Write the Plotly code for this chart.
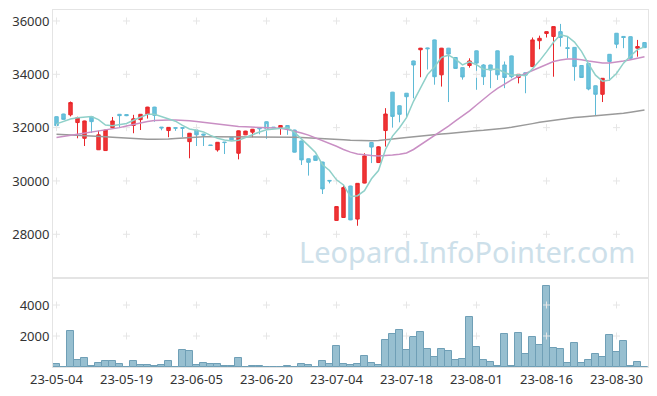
import plotly.graph_objects as go
from plotly.subplots import make_subplots

# ---------------- data ----------------
dates = ["23-05-04","23-05-08","23-05-09","23-05-10","23-05-11","23-05-12","23-05-15","23-05-16","23-05-17","23-05-18",
         "23-05-19","23-05-22","23-05-23","23-05-24","23-05-25","23-05-26","23-05-30","23-05-31","23-06-01","23-06-02",
         "23-06-05","23-06-07","23-06-08","23-06-09","23-06-12","23-06-13","23-06-14","23-06-15","23-06-16","23-06-19",
         "23-06-20","23-06-21","23-06-22","23-06-23","23-06-26","23-06-27","23-06-28","23-06-29","23-06-30","23-07-03",
         "23-07-04","23-07-05","23-07-06","23-07-07","23-07-10","23-07-11","23-07-12","23-07-13","23-07-14","23-07-17",
         "23-07-18","23-07-19","23-07-20","23-07-21","23-07-24","23-07-25","23-07-26","23-07-27","23-07-28","23-07-31",
         "23-08-01","23-08-02","23-08-03","23-08-04","23-08-07","23-08-08","23-08-09","23-08-10","23-08-11","23-08-14",
         "23-08-16","23-08-17","23-08-18","23-08-21","23-08-22","23-08-23","23-08-24","23-08-25","23-08-28","23-08-29",
         "23-08-30","23-08-31","23-09-01","23-09-04","23-09-05"]

open_ = [32410,32510,32480,32190,31600,32410,31170,31140,32000,32500,
         32490,32080,32300,32500,32770,32020,31890,32000,32000,31475,
         31910,31760,31350,31165,31460,31630,31040,31730,31830,31990,
         32220,32020,32000,32080,31910,31500,30830,30940,30710,30020,
         28520,28630,29810,28570,29920,31440,30690,31890,33330,32820,
         33290,34500,34920,34990,35290,33980,34980,34630,34250,34330,
         34880,34350,34350,34880,34350,34690,33880,34060,34290,35260,
         35530,35420,35600,35000,35010,34330,34410,33570,33250,34750,
         35540,35420,35410,34980,35190]
high = [32420,32520,32980,32410,32260,32420,31880,31920,32400,32510,
        32500,32480,32510,32780,32780,32020,32020,32010,32010,31800,
        31920,31770,31350,31460,31460,31630,31890,31880,31950,31990,
        32230,32020,32090,32090,31920,31510,30840,30950,30720,30020,
        29050,29850,29820,29920,31040,31450,31300,32730,33340,32830,
        33300,34510,34990,35000,35300,34990,34990,34640,34260,34600,
        34890,34380,34360,34890,34480,34700,34010,34060,35380,35450,
        35610,35800,35890,35410,35020,34340,34420,33580,33860,34760,
        35550,35420,35420,35290,35200]
low = [31910,32300,32420,31600,31310,31800,31160,31130,31990,32000,
       32430,31790,31910,32340,32220,31900,31640,31880,31640,30850,
       31310,31310,31320,31100,31010,31530,30810,31720,31640,31750,
       31580,31990,31730,31730,31070,30600,30200,30760,29510,29910,
       28510,28620,28530,28320,29910,30670,30680,31290,32000,32200,
       32400,33100,33890,34180,33610,33540,32960,34210,33800,34250,
       33420,33600,33480,33790,33480,33850,33660,33290,34280,34940,
       35380,33910,35040,34600,33760,33870,33400,32460,32960,33750,
       34980,34980,34590,34660,34990]
close = [32075,32310,32940,32370,32250,32225,31730,31910,32250,32450,
         32450,32330,32500,32770,32460,31990,32010,31980,31980,31790,
         31730,31720,31330,31450,31440,31540,31880,31870,31940,31960,
         31960,32000,32080,31980,31080,30790,30700,30770,29700,30000,
         29040,29750,28540,29910,30940,31270,31280,32510,32420,32500,
         33160,34350,34980,34960,33910,34980,34760,34220,33900,34500,
         34420,33910,34160,33980,33880,33910,34000,33970,35290,35350,
         35600,35790,35380,34970,34290,33880,33450,33250,33850,34480,
         35130,35380,34600,35040,35000]

volume = [170,0,2300,430,560,60,240,370,370,170,
          0,370,110,110,40,110,370,0,1080,1010,
          110,240,170,170,40,40,560,0,40,40,
          0,0,0,40,0,170,110,0,370,170,
          1333,170,110,170,690,240,110,1720,2110,2370,
          1080,1910,2240,1140,620,1140,1010,430,490,3200,
          1270,430,300,40,2110,40,2170,820,1910,1400,
          5200,1200,1140,240,1530,240,430,820,620,2040,
          950,1660,40,300,0]

ma5 = [32140,32240,32320,32370,32389,32419,32303,32097,32073,32113,
       32158,32278,32396,32500,32502,32410,32346,32242,32084,31950,
       31898,31840,31710,31604,31534,31496,31528,31636,31734,31838,
       31922,31946,31988,31996,31820,31586,31326,31064,30608,30392,
       30042,29852,29406,29448,29636,30082,30388,31182,31684,31996,
       32374,32988,33482,33990,34272,34636,34718,34566,34354,34472,
       34360,34190,34178,34194,34070,33968,33986,33948,34210,34504,
       34842,35200,35482,35418,35206,34862,34394,33968,33744,33782,
       34032,34418,34688,34926,35030]

ma20 = [31630,31670,31720,31760,31800,31830,31860,31900,31950,32000,
        32060,32120,32180,32230,32270,32290,32290,32290,32280,32260,
        32230,32200,32160,32120,32090,32060,32040,32030,32020,32020,
        32010,32000,31980,31930,31870,31800,31720,31620,31520,31420,
        31300,31180,31080,31010,30970,30950,30940,30950,30970,31000,
        31050,31180,31350,31520,31700,31860,32060,32250,32430,32630,
        32850,33070,33280,33470,33640,33790,33920,34030,34160,34280,
        34380,34480,34540,34570,34570,34550,34500,34450,34420,34420,
        34450,34500,34550,34610,34660]

ma60 = [31750,31740,31730,31720,31710,31700,31680,31660,31640,31620,
        31600,31580,31570,31565,31560,31560,31570,31590,31610,31630,
        31650,31660,31660,31660,31660,31660,31660,31660,31660,31660,
        31660,31650,31650,31640,31640,31630,31620,31610,31600,31590,
        31570,31550,31530,31520,31510,31510,31520,31540,31570,31600,
        31630,31660,31690,31710,31730,31760,31780,31810,31830,31850,
        31880,31900,31920,31950,31980,32010,32050,32100,32150,32200,
        32240,32280,32320,32350,32380,32400,32420,32440,32460,32480,
        32510,32540,32580,32620,32660]

price_ticks = [28000, 30000, 32000, 34000, 36000]
price_labels = ["28000", "30000", "32000", "34000", "36000"]
volume_ticks = [2000, 4000]
volume_labels = ["2000", "4000"]
label_every = 10

# ---------------- figure ----------------
idx = list(range(len(dates)))
tick_idx = idx[::label_every]
tick_txt = [dates[i] for i in tick_idx]

fig = make_subplots(rows=2, cols=1, shared_xaxes=True, vertical_spacing=0,
                    row_heights=[268, 89])

# grid "+" markers
grid_col = "#e6e6e6"
gx, gy = [], []
for t in tick_idx:
    for p in price_ticks:
        gx.append(t); gy.append(p)
fig.add_trace(go.Scatter(x=gx, y=gy, mode="markers", hoverinfo="skip", showlegend=False,
                         marker=dict(symbol="cross-thin", size=5, line=dict(color=grid_col, width=1))),
              row=1, col=1)
vx, vy = [], []
for t in tick_idx:
    for p in volume_ticks:
        vx.append(t); vy.append(p)
fig.add_trace(go.Scatter(x=vx, y=vy, mode="markers", hoverinfo="skip", showlegend=False,
                         marker=dict(symbol="cross-thin", size=5, line=dict(color=grid_col, width=1))),
              row=2, col=1)

fig.add_trace(go.Scatter(x=idx, y=ma60, mode="lines", line=dict(color="#9a9a9a", width=1.5),
                         showlegend=False, hoverinfo="skip"), row=1, col=1)
fig.add_trace(go.Scatter(x=idx, y=ma20, mode="lines", line=dict(color="#c98fc4", width=1.5),
                         showlegend=False, hoverinfo="skip"), row=1, col=1)

fig.add_trace(go.Candlestick(
    x=idx, open=open_, high=high, low=low, close=close,
    increasing=dict(line=dict(color="#e8262b", width=1), fillcolor="#ef3535"),
    decreasing=dict(line=dict(color="#5fbad6", width=1), fillcolor="#6ac2dc"),
    whiskerwidth=0, showlegend=False), row=1, col=1)

fig.add_trace(go.Scatter(x=idx, y=ma5, mode="lines", line=dict(color="#8fd0c9", width=1.5),
                         showlegend=False, hoverinfo="skip"), row=1, col=1)

fig.add_trace(go.Bar(x=idx, y=volume, marker=dict(color="#97bfd0", line=dict(color="#6f9fb6", width=1)),
                     showlegend=False), row=2, col=1)

axis_line = "#e4e4e4"
fig.update_layout(
    width=657, height=396,
    margin=dict(l=53, r=9, t=10, b=29, autoexpand=False),
    paper_bgcolor="white", plot_bgcolor="white",
    font=dict(family="Noto Sans, sans-serif", size=13, color="#333333"),
    bargap=0,
    showlegend=False,
)
fig.update_xaxes(range=[-0.5, len(dates) - 0.5], showgrid=False, zeroline=False,
                 showline=True, mirror=True, linecolor=axis_line, linewidth=1,
                 rangeslider_visible=False, ticks="", automargin=False)
fig.update_xaxes(tickmode="array", tickvals=tick_idx, ticktext=tick_txt, row=2, col=1)
fig.update_xaxes(showticklabels=False, row=1, col=1)
fig.update_yaxes(range=[26360, 36412], tickmode="array", tickvals=price_ticks, ticktext=price_labels,
                 showgrid=False, zeroline=False, showline=True, mirror=True,
                 linecolor=axis_line, ticks="", automargin=False, row=1, col=1)
fig.update_yaxes(range=[0, 5742], tickmode="array", tickvals=volume_ticks, ticktext=volume_labels,
                 showgrid=False, zeroline=False, showline=True, mirror=True,
                 linecolor=axis_line, ticks="", automargin=False, row=2, col=1)

fig.add_annotation(text="Leopard.InfoPointer.com", xref="paper", yref="paper",
                   x=(467 - 53) / 595, y=(367 - 251) / 357, xanchor="center", yanchor="middle",
                   showarrow=False,
                   font=dict(family="Noto Sans, sans-serif", size=29, color="#cde0ea"))

fig.write_html("out.html", config={"displayModeBar": False},
               post_script="document.body.style.margin='0';document.body.style.overflow='hidden';")
